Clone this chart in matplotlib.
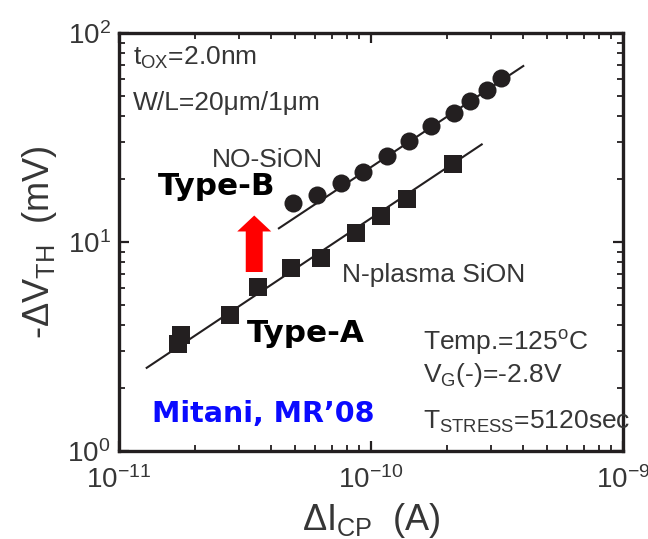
import numpy as np
import matplotlib
matplotlib.use("Agg")
import matplotlib.pyplot as plt

plt.rcParams['font.family'] = ['Liberation Sans', 'DejaVu Sans']
plt.rcParams['mathtext.default'] = 'regular'

# charge-pumping current increase (A) vs threshold shift (mV)
no_sion_icp = [4.92e-11, 6.09e-11, 7.6e-11, 9.32e-11, 1.154e-10, 1.419e-10,
               1.73e-10, 2.135e-10, 2.47e-10, 2.88e-10, 3.27e-10]
no_sion_dvth = [15.3, 16.8, 19.1, 21.7, 25.8, 30.5, 35.9, 41.6, 47.3, 53.4, 60.7]

npl_sion_icp = [1.71e-11, 1.77e-11, 2.76e-11, 3.55e-11, 4.81e-11, 6.33e-11,
                8.69e-11, 1.093e-10, 1.386e-10, 2.12e-10]
npl_sion_dvth = [3.25, 3.59, 4.47, 6.11, 7.54, 8.41, 11.0, 13.3, 16.0, 23.5]

# power-law fit lines, given by their end points
no_fit_icp = [4.31e-11, 4.02e-10]
no_fit_dvth = [11.63, 69.5]
npl_fit_icp = [1.288e-11, 2.75e-10]
npl_fit_dvth = [2.50, 29.3]

ink = '#231f20'
txt = '#363636'

fig = plt.figure(figsize=(6.48, 5.39), dpi=100)
ax = fig.add_axes([119/648, 1-451/539, 504/648, 418/539])

ax.plot(no_fit_icp, no_fit_dvth, color=ink, lw=1.5)
ax.plot(npl_fit_icp, npl_fit_dvth, color=ink, lw=1.5)
ax.plot(no_sion_icp, no_sion_dvth, 'o', color=ink, ms=13, mew=0)
ax.plot(npl_sion_icp, npl_sion_dvth, 's', color=ink, ms=13, mew=0)

ax.set_xscale('log')
ax.set_yscale('log')
ax.set_xlim(1e-11, 1e-9)
ax.set_ylim(1, 100)

for s in ax.spines.values():
    s.set_linewidth(2.4)
    s.set_color(ink)
ax.tick_params(which='both', direction='in', top=True, right=True,
               color=ink, labelcolor=txt, labelsize=20)
ax.tick_params(which='major', length=7, width=1.6)
ax.tick_params(which='minor', length=4.5, width=1.3)
ax.tick_params(axis='x', which='major', pad=11)
ax.tick_params(axis='y', which='major', pad=6)

ax.set_xlabel('ΔI$_{CP}$  (A)', fontsize=26, color=txt, labelpad=5)
ax.set_ylabel('-ΔV$_{TH}$  (mV)', fontsize=26, color=txt, labelpad=6)

# conditions and curve names
kw = dict(transform=ax.transAxes, fontsize=19, color=txt, va='baseline', ha='left')
ax.text(0.028, 0.923, 't$_{OX}$=2.0nm', **kw)
ax.text(0.028, 0.816, 'W/L=20μm/1μm', **kw)
ax.text(0.184, 0.680, 'NO-SiON', **kw)
ax.text(0.442, 0.405, 'N-plasma SiON', **kw)
ax.text(0.603, 0.2416, 'Temp.=125$^{o}$C', **kw)
ax.text(0.603, 0.1658, 'V$_{G}$(-)=-2.8V', **kw)
ax.text(0.603, 0.0543, 'T$_{STRESS}$=5120sec', **kw)

bold = dict(transform=ax.transAxes, va='baseline', ha='left',
            family='DejaVu Sans', fontweight='bold')
ax.text(0.077, 0.612, 'Type-B', fontsize=22.3, color='black', **bold)
ax.text(0.253, 0.2615, 'Type-A', fontsize=22.3, color='black', **bold)
ax.text(0.065, 0.070, 'Mitani, MR’08', fontsize=20.5, color='#0a0aff', **bold)

# red arrow from Type-A up to Type-B
ax.annotate('', xy=(0.2683, 0.5634), xytext=(0.2683, 0.4282),
            xycoords='axes fraction', textcoords='axes fraction',
            arrowprops=dict(arrowstyle='simple,head_length=11.5,head_width=24.5,tail_width=12.2',
                            mutation_scale=1, fc='#ff0000', ec='none', lw=0,
                            shrinkA=0, shrinkB=0))

fig.savefig('out.png', dpi=100)
